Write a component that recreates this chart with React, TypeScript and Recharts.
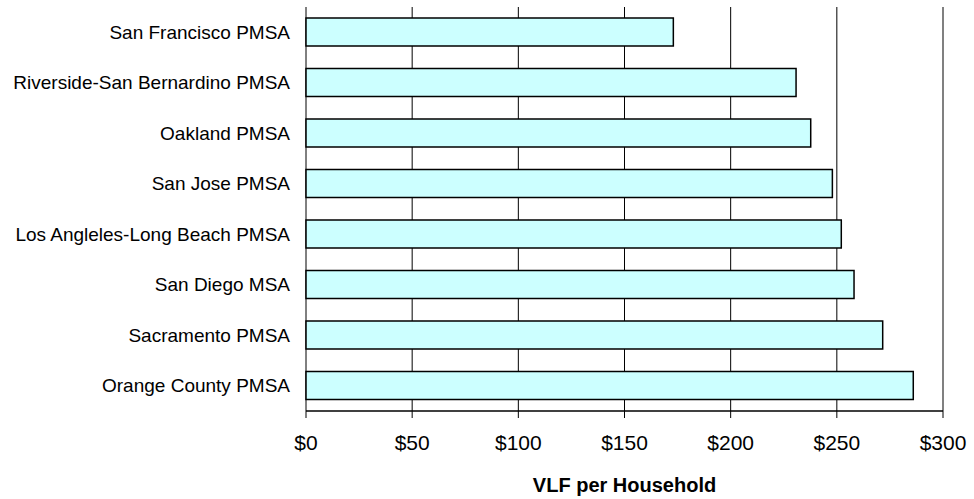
import {
  BarChart,
  Bar,
  XAxis,
  YAxis,
  CartesianGrid,
  ReferenceLine,
  Label,
} from "recharts";

const AREAS = [
  "San Francisco PMSA",
  "Riverside-San Bernardino PMSA",
  "Oakland PMSA",
  "San Jose PMSA",
  "Los Angleles-Long Beach PMSA",
  "San Diego MSA",
  "Sacramento PMSA",
  "Orange County PMSA",
];

const VLF = [173, 230.8, 237.7, 247.9, 252.1, 258.1, 271.6, 286];

const X_TICKS = [0, 50, 100, 150, 200, 250, 300];
const BOUNDARY_TICKS = [0, 1, 2, 3, 4, 5, 6, 7, 8];

const data = AREAS.map((name, i) => ({ name, vlf: VLF[i] }));

const FONT = "'Liberation Sans', Arial, sans-serif";

export default function App() {
  return (
    <div style={{ position: "absolute", left: 0, top: 0, background: "#fff" }}>
      <BarChart
        width={974}
        height={499}
        data={data}
        layout="vertical"
        margin={{ top: 7, right: 31, bottom: 0, left: 0 }}
        barSize={28}
      >
        <CartesianGrid horizontal={false} stroke="#000" strokeWidth={1} />
        <XAxis
          type="number"
          domain={[0, 300]}
          ticks={X_TICKS}
          tickFormatter={(v) => `$${v}`}
          tick={{ fontSize: 21, fill: "#000", fontFamily: FONT }}
          tickSize={7}
          tickMargin={17}
          axisLine={{ stroke: "#000", strokeWidth: 1.5 }}
          tickLine={{ stroke: "#000" }}
          height={88}
        >
          <Label
            value="VLF per Household"
            position="insideBottom"
            offset={7}
            style={{ fontSize: 20, fontWeight: "bold", fill: "#000", fontFamily: FONT }}
          />
        </XAxis>
        <XAxis
          xAxisId="top"
          orientation="top"
          type="number"
          domain={[0, 300]}
          height={0}
          tick={false}
          tickLine={false}
          axisLine={{ stroke: "#808080", strokeWidth: 2 }}
        />
        <YAxis
          yAxisId="bounds"
          type="number"
          domain={[0, 8]}
          ticks={BOUNDARY_TICKS}
          width={0}
          tickSize={6}
          tickFormatter={() => ""}
          axisLine={{ stroke: "#000", strokeWidth: 1.5 }}
          tickLine={{ stroke: "#000" }}
        />
        <YAxis
          type="category"
          dataKey="name"
          width={306}
          tick={{ fontSize: 19, fill: "#000", fontFamily: FONT }}
          tickLine={false}
          tickSize={6}
          tickMargin={10}
          axisLine={false}
        />
        <ReferenceLine x={300} stroke="#808080" strokeWidth={2} />
        <Bar
          dataKey="vlf"
          fill="#CCFFFF"
          stroke="#000"
          strokeWidth={1.5}
          isAnimationActive={false}
        />
      </BarChart>
    </div>
  );
}
